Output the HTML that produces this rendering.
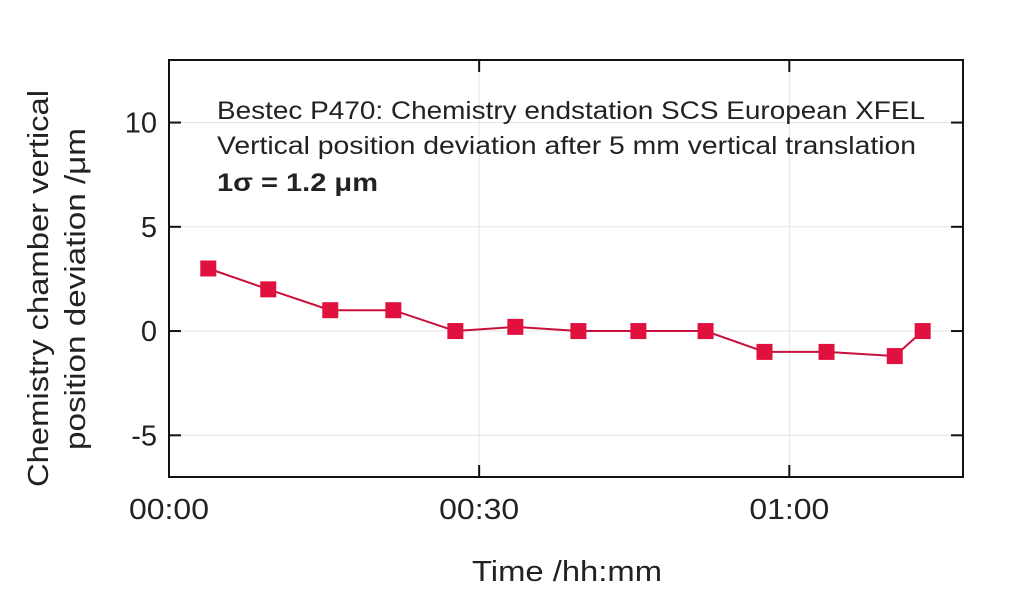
<!DOCTYPE html>
<html><head><meta charset="utf-8"><style>
body{margin:0;background:#fff}
svg text{font-family:"Liberation Sans",sans-serif;fill:#222}
</style></head><body>
<svg width="1024" height="589" id="c">
<g id="grid"></g>
<g id="ticks"></g>
<rect x="169" y="60" width="794" height="417" fill="none" stroke="#111" stroke-width="2"/>
<g id="series"></g>
<text x="217" y="119" font-size="25" textLength="708" lengthAdjust="spacingAndGlyphs">Bestec P470: Chemistry endstation SCS European XFEL</text>
<text x="217" y="154" font-size="25" textLength="699" lengthAdjust="spacingAndGlyphs">Vertical position deviation after 5 mm vertical translation</text>
<text x="217" y="191" font-size="25" font-weight="bold" textLength="161" lengthAdjust="spacingAndGlyphs">1σ = 1.2 μm</text>
<text x="472" y="581" font-size="29" textLength="190" lengthAdjust="spacingAndGlyphs">Time /hh:mm</text>
<text transform="translate(48,487) rotate(-90)" font-size="29" textLength="397" lengthAdjust="spacingAndGlyphs">Chemistry chamber vertical</text>
<text transform="translate(85,450) rotate(-90)" font-size="29" textLength="322" lengthAdjust="spacingAndGlyphs">position deviation /μm</text>
</svg>
<script>
const times=[3.8,9.6,15.6,21.7,27.7,33.5,39.6,45.4,51.9,57.6,63.6,70.2,72.9];
const values=[3,2,1,1,0,0.2,0,0,0,-1,-1,-1.2,0];
const yTicks=[-5,0,5,10];
const yTickLabels=["-5","0","5","10"];
const xTicks=[0,30,60];
const xTickLabels=["00:00","00:30","01:00"];
const L=169,R=963,T=60,B=477,xMin=0,xMax=76.8,yMin=-7,yMax=13;
const sx=v=>L+(v-xMin)/(xMax-xMin)*(R-L);
const sy=v=>B-(v-yMin)/(yMax-yMin)*(B-T);
const NS="http://www.w3.org/2000/svg";
function mk(t,a,p){const e=document.createElementNS(NS,t);for(const k in a)e.setAttribute(k,a[k]);p.appendChild(e);return e;}
const g=document.getElementById('grid'),tk=document.getElementById('ticks'),s=document.getElementById('series');
yTicks.forEach((v,i)=>{const y=sy(v);
let e=mk('line',{x1:L,x2:R,y1:y,y2:y,stroke:'#e4e4e4','stroke-width':1},g);

e=mk('line',{x1:L,x2:L+12,y1:y,y2:y,stroke:'#111','stroke-width':2},tk);

e=mk('line',{x1:R-12,x2:R,y1:y,y2:y,stroke:'#111','stroke-width':2},tk);

e=mk('text',{x:L-12,y:y+10,'font-size':29,'text-anchor':'end'},tk);e.textContent=yTickLabels[i];
});
xTicks.forEach((v,i)=>{const x=sx(v);
let e=mk('line',{x1:x,x2:x,y1:T,y2:B,stroke:'#e4e4e4','stroke-width':1},g);

e=mk('line',{x1:x,x2:x,y1:B-12,y2:B,stroke:'#111','stroke-width':2},tk);

e=mk('line',{x1:x,x2:x,y1:T,y2:T+12,stroke:'#111','stroke-width':2},tk);

e=mk('text',{x:x-40,y:519,'font-size':29,textLength:80,lengthAdjust:'spacingAndGlyphs'},tk);e.textContent=xTickLabels[i];
});
const pts=times.map((t,i)=>sx(t)+','+sy(values[i])).join(' ');
let pl=mk('polyline',{points:pts,fill:'none',stroke:'#c8103c','stroke-width':2},s);

times.forEach((t,i)=>{const r=mk('rect',{x:sx(t)-8,y:sy(values[i])-8,width:16,height:16,fill:'#e0103f'},s);
});
</script>
</body></html>
